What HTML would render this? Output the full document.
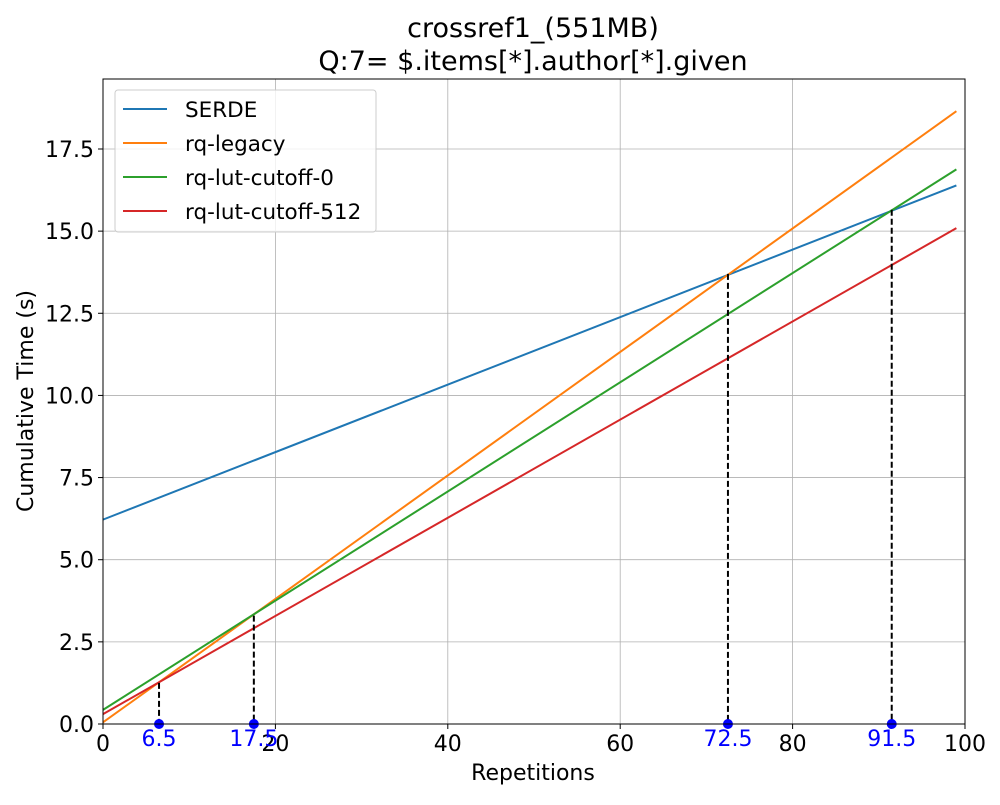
<!DOCTYPE html>
<html><head><meta charset="utf-8"><style>
body{margin:0;background:#fff;}
svg{font-family:"DejaVu Sans","Liberation Sans",sans-serif;}
</style></head><body>
<svg id="c" width="1000" height="800" xmlns="http://www.w3.org/2000/svg"></svg>
<script>
const xTicks=[0,20,40,60,80,100];
const yTicks=[0,2.5,5,7.5,10,12.5,15,17.5];
const yTickLabels=["0.0","2.5","5.0","7.5","10.0","12.5","15.0","17.5"];
const seriesNames=["SERDE","rq-legacy","rq-lut-cutoff-0","rq-lut-cutoff-512"];
const seriesColors=["#1f77b4","#ff7f0e","#2ca02c","#d62728"];
const seriesX=[0,99];
const serde=[6.22,16.39];
const legacy=[0.05,18.65];
const lut0=[0.43,16.88];
const lut512=[0.30,15.09];
const crossX=[6.5,17.5,72.5,91.5];
const crossY=[1.25,3.3,13.7,15.65];

const L=103,R=965,T=79,B=724;
const xs=v=>L+(v-0)/100*(R-L);
const ys=v=>B-v/19.63*(B-T);
const svg=document.getElementById('c');
const NS="http://www.w3.org/2000/svg";
function mk(tag,attrs,parent){const e=document.createElementNS(NS,tag);for(const k in attrs)e.setAttribute(k,attrs[k]);(parent||svg).appendChild(e);return e;}

xTicks.forEach(t=>{const e=mk('line',{x1:xs(t),x2:xs(t),y1:T,y2:B,stroke:'#b0b0b0','stroke-width':0.8});

});
yTicks.forEach(t=>{const e=mk('line',{x1:L,x2:R,y1:ys(t),y2:ys(t),stroke:'#b0b0b0','stroke-width':0.8});

});

const allSeries=[serde,legacy,lut0,lut512];
allSeries.forEach((s,i)=>{const e=mk('polyline',{points:s.map((v,j)=>xs(seriesX[j])+','+ys(v)).join(' '),fill:'none',stroke:seriesColors[i],'stroke-width':2});

});

crossX.forEach((x,i)=>{
const d=mk('line',{x1:xs(x),x2:xs(x),y1:ys(crossY[i]),y2:B,stroke:'#000','stroke-width':2,'stroke-dasharray':'6,3'});


const c=mk('circle',{cx:xs(x),cy:B,r:5,fill:'#0000ff'});


});

const f=mk('rect',{x:L,y:T,width:R-L,height:B-T,fill:'none',stroke:'#000','stroke-width':1});



xTicks.forEach(t=>{mk('line',{x1:xs(t),x2:xs(t),y1:B,y2:B+5,stroke:'#000'});
const e=mk('text',{x:xs(t),y:B+27,'text-anchor':'middle','font-size':22,fill:'#000'});e.textContent=t;

});
yTicks.forEach((t,i)=>{mk('line',{x1:L-5,x2:L,y1:ys(t),y2:ys(t),stroke:'#000'});
const e=mk('text',{x:L-9,y:ys(t)+8,'text-anchor':'end','font-size':22,fill:'#000'});e.textContent=yTickLabels[i];

});

crossX.forEach(x=>{const e=mk('text',{x:xs(x),y:B+22,'text-anchor':'middle','font-size':22,fill:'#0000ff'});e.textContent=x;

});
</script>
<svg style="position:absolute;left:0;top:0" width="1000" height="800" xmlns="http://www.w3.org/2000/svg">
<text x="533" y="37" text-anchor="middle" font-size="27">crossref1_(551MB)</text>
<text x="533" y="70" text-anchor="middle" font-size="27">Q:7= $.items[*].author[*].given</text>
<text x="533" y="780" text-anchor="middle" font-size="22">Repetitions</text>
<text transform="translate(33,401) rotate(-90)" text-anchor="middle" font-size="22">Cumulative Time (s)</text>
<g>
<rect x="115" y="90" width="261" height="142" rx="3" fill="#fff" fill-opacity="0.8" stroke="#ccc"/>
<line x1="123" x2="167" y1="109" y2="109" stroke="#1f77b4" stroke-width="2"/>
<text x="185" y="117" font-size="21.5">SERDE</text>
<line x1="123" x2="167" y1="143" y2="143" stroke="#ff7f0e" stroke-width="2"/>
<text x="185" y="151" font-size="21.5">rq-legacy</text>
<line x1="123" x2="167" y1="177" y2="177" stroke="#2ca02c" stroke-width="2"/>
<text x="185" y="185" font-size="21.5">rq-lut-cutoff-0</text>
<line x1="123" x2="167" y1="211" y2="211" stroke="#d62728" stroke-width="2"/>
<text x="185" y="219" font-size="21.5">rq-lut-cutoff-512</text>
</g>
</svg>
</body></html>
